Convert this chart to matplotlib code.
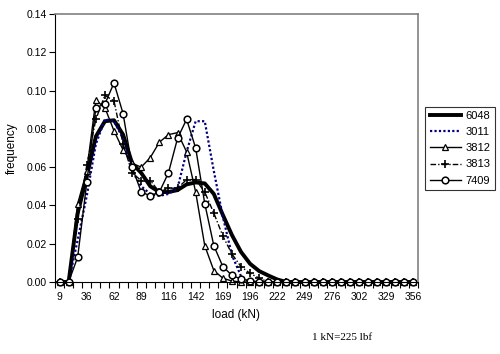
import numpy as np
import matplotlib
matplotlib.use("Agg")
import matplotlib.pyplot as plt

plt.rcParams["font.family"] = ["Liberation Sans", "DejaVu Sans"]

# load bins (kN), one every ~8.9 kN
load = ["9", "18", "27", "36", "44", "53", "62", "71", "80", "89", "98", "107", "116", "125",
        "133", "142", "151", "160", "169", "178", "187", "196", "205", "214", "222", "231",
        "240", "249", "258", "267", "276", "285", "293", "302", "311", "320", "329", "338",
        "347", "356"]

def pad(vals):
    return vals + [0.0] * (40 - len(vals))

f6048 = pad([0, 0, 0.036, 0.055, 0.076, 0.084, 0.0845, 0.077, 0.062, 0.057, 0.050, 0.047,
             0.047, 0.048, 0.051, 0.052, 0.0515, 0.046, 0.035, 0.0245, 0.0157, 0.0095,
             0.0057, 0.0034, 0.0013])
f3011 = pad([0, 0, 0.022, 0.045, 0.072, 0.085, 0.084, 0.075, 0.058, 0.050, 0.046, 0.045,
             0.046, 0.049, 0.068, 0.084, 0.084, 0.058, 0.034, 0.014, 0.003])
f3812 = pad([0, 0, 0.041, 0.058, 0.095, 0.091, 0.079, 0.069, 0.062, 0.060, 0.065, 0.073,
             0.077, 0.078, 0.068, 0.047, 0.019, 0.006, 0.002, 0.0005])
f3813 = pad([0, 0, 0.033, 0.061, 0.085, 0.0975, 0.0946, 0.072, 0.057, 0.053, 0.053, 0.047,
             0.049, 0.049, 0.0535, 0.0535, 0.047, 0.036, 0.024, 0.0146, 0.008, 0.0045, 0.002])
f7409 = pad([0, 0, 0.013, 0.052, 0.091, 0.093, 0.104, 0.088, 0.060, 0.047, 0.045, 0.047,
             0.057, 0.075, 0.085, 0.070, 0.041, 0.019, 0.008, 0.0035, 0.0015, 0.0007])

x = np.arange(len(load))

fig = plt.figure(figsize=(5, 3.54), dpi=100)
ax = fig.add_axes([0.11, 0.2034, 0.726, 0.757])

ax.plot(x, f6048, color="black", lw=2.8, label="6048", clip_on=False)
ax.plot(x, f3011, color="#000080", lw=1.6, ls=(0, (1, 1)), label="3011", clip_on=False)
ax.plot(x, f3812, color="black", lw=1, marker="^", ms=4.5, mfc="white", mec="black",
        mew=0.9, label="3812", clip_on=False)
ax.plot(x, f3813, color="black", lw=1, ls=(0, (4, 1.5, 1, 1.5)), marker="+", ms=6,
        mew=1.2, label="3813", clip_on=False)
ax.plot(x, f7409, color="black", lw=1, marker="o", ms=4.8, mfc="white", mec="black",
        mew=1.1, label="7409", clip_on=False)

ax.set_xlim(-0.5, 39.5)
ax.set_ylim(0, 0.14)
ax.set_yticks(np.arange(0, 0.141, 0.02))
ax.set_yticklabels(["%.2f" % v for v in np.arange(0, 0.141, 0.02)], fontsize=7.5)
ax.set_xticks(x[::3])
ax.set_xticklabels(load[::3], fontsize=7.5)
ax.set_xticks(np.arange(-0.5, 40, 1), minor=True)
ax.tick_params(axis="x", which="major", length=0, pad=7)
ax.tick_params(axis="x", which="minor", length=4, direction="out", width=0.8)
ax.tick_params(axis="y", length=4, width=0.8, pad=2)

for side in ["top", "right"]:
    ax.spines[side].set_color("#808080")
    ax.spines[side].set_linewidth(1.2)
ax.spines["left"].set_linewidth(0.8)
ax.spines["bottom"].set_linewidth(0.8)

ax.set_xlabel("load (kN)", fontsize=8.5, labelpad=5)
ax.set_ylabel("frequency", fontsize=8.5, labelpad=6)

leg = ax.legend(loc="upper left", bbox_to_anchor=(1.005, 0.675), fontsize=8,
                frameon=True, fancybox=False, edgecolor="black", handlelength=2.8,
                handletextpad=0.4, borderpad=0.4, labelspacing=0.55)
leg.get_frame().set_linewidth(0.8)

fig.text(0.684, 0.04, "1 kN=225 lbf", fontsize=8, family="Liberation Serif", ha="center")

plt.savefig("out.png", dpi=100)
